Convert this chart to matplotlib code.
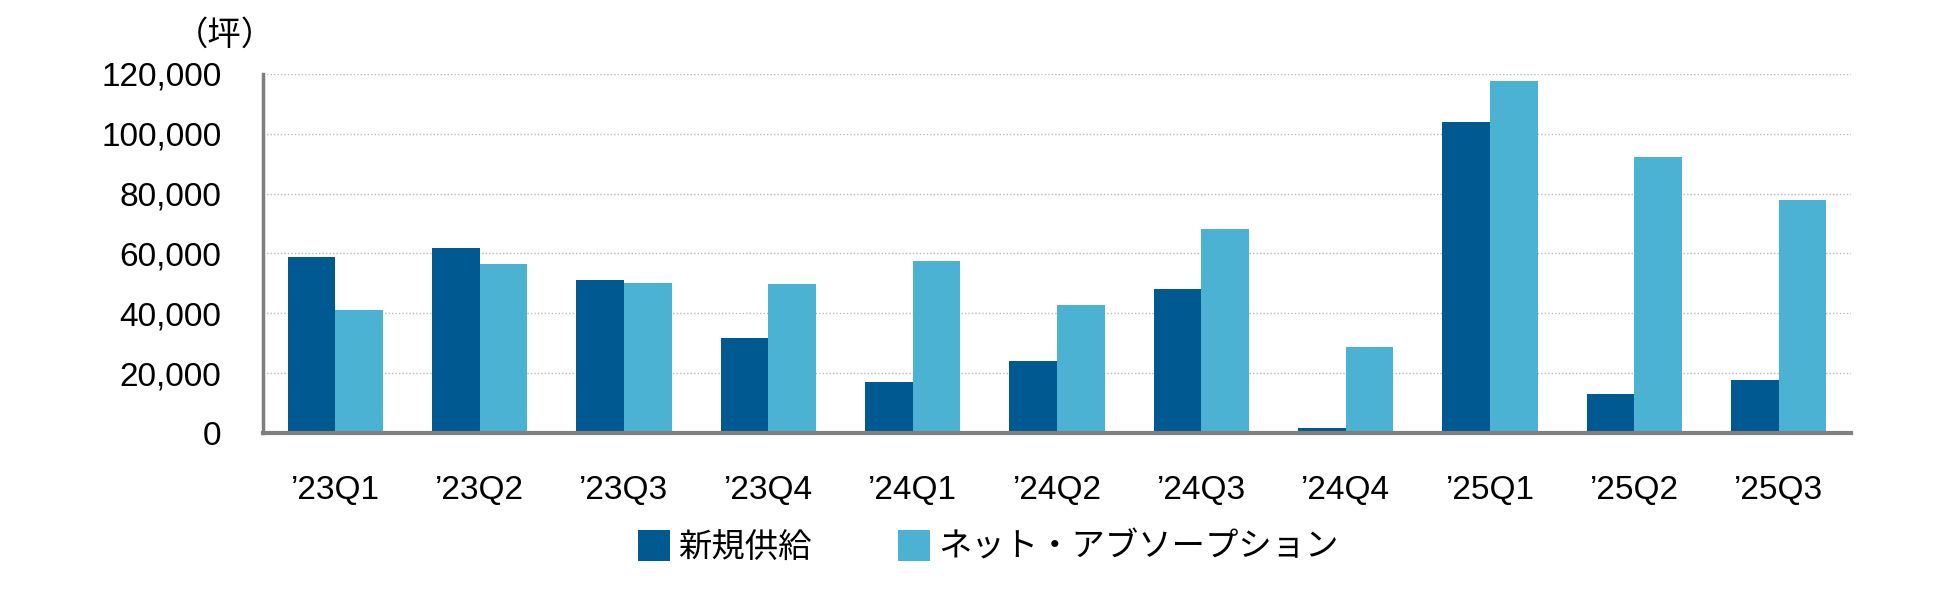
import matplotlib.pyplot as plt
from matplotlib.patches import Patch
import numpy as np

plt.rcParams['font.family'] = ['Liberation Sans', 'Noto Sans CJK JP', 'DejaVu Sans']

# data (坪)
quarters = ['’23Q1', '’23Q2', '’23Q3', '’23Q4', '’24Q1', '’24Q2',
            '’24Q3', '’24Q4', '’25Q1', '’25Q2', '’25Q3']
new_supply = [58900, 61700, 51100, 31600, 17000, 24000,
              48000, 1600, 103900, 12900, 17600]
net_absorption = [41100, 56400, 50300, 49800, 57600, 42700,
                  68100, 28900, 117800, 92400, 78000]
series_names = ['新規供給', 'ネット・アブソープション']
yticks = [0, 20000, 40000, 60000, 80000, 100000, 120000]

dark = '#005A91'
light = '#4BB2D4'

fig = plt.figure(figsize=(19.5, 5.9), dpi=100)
ax = fig.add_axes([0.1349, 0.2661, 0.8143, 0.6085])

x = np.arange(len(quarters))
w = 0.33
ax.bar(x - w / 2, new_supply, width=w, color=dark, zorder=3)
ax.bar(x + w / 2, net_absorption, width=w, color=light, zorder=3)

ax.set_xlim(-0.5, len(quarters) - 0.5)
ax.set_ylim(0, 120000)
ax.set_yticks(yticks)
ax.set_yticklabels([f'{v:,}' for v in yticks], fontsize=24)
ax.set_xticks(x)
ax.set_xticklabels(quarters, fontsize=24)
ax.tick_params(axis='both', length=0)
ax.tick_params(axis='y', pad=30)
ax.tick_params(axis='x', pad=30)

ax.yaxis.grid(True, linestyle=(0, (1, 1.5)), color='#b8b8b8', linewidth=1.0, zorder=0)
ax.set_axisbelow(True)
for side in ['top', 'right']:
    ax.spines[side].set_visible(False)
ax.spines['left'].set_color('#7f7f7f')
ax.spines['left'].set_linewidth(2.5)
ax.spines['bottom'].set_color('#7f7f7f')
ax.spines['bottom'].set_linewidth(3)
ax.spines['bottom'].set_zorder(4)

# unit label above the y axis
fig.text(0.1155, 0.94, '（坪）', fontsize=24, ha='center', va='center',
         family=['Noto Sans CJK JP', 'DejaVu Sans'])

handles = [Patch(facecolor=dark), Patch(facecolor=light)]
fig.legend(handles, series_names, loc='center', bbox_to_anchor=(0.507, 0.073),
           ncol=2, frameon=False, prop={'family': ['Noto Sans CJK JP'], 'size': 24},
           handlelength=0.95, handleheight=1.05, handletextpad=0.25,
           columnspacing=2.6, borderpad=0)

fig.savefig('out.png', dpi=100, facecolor='white')
